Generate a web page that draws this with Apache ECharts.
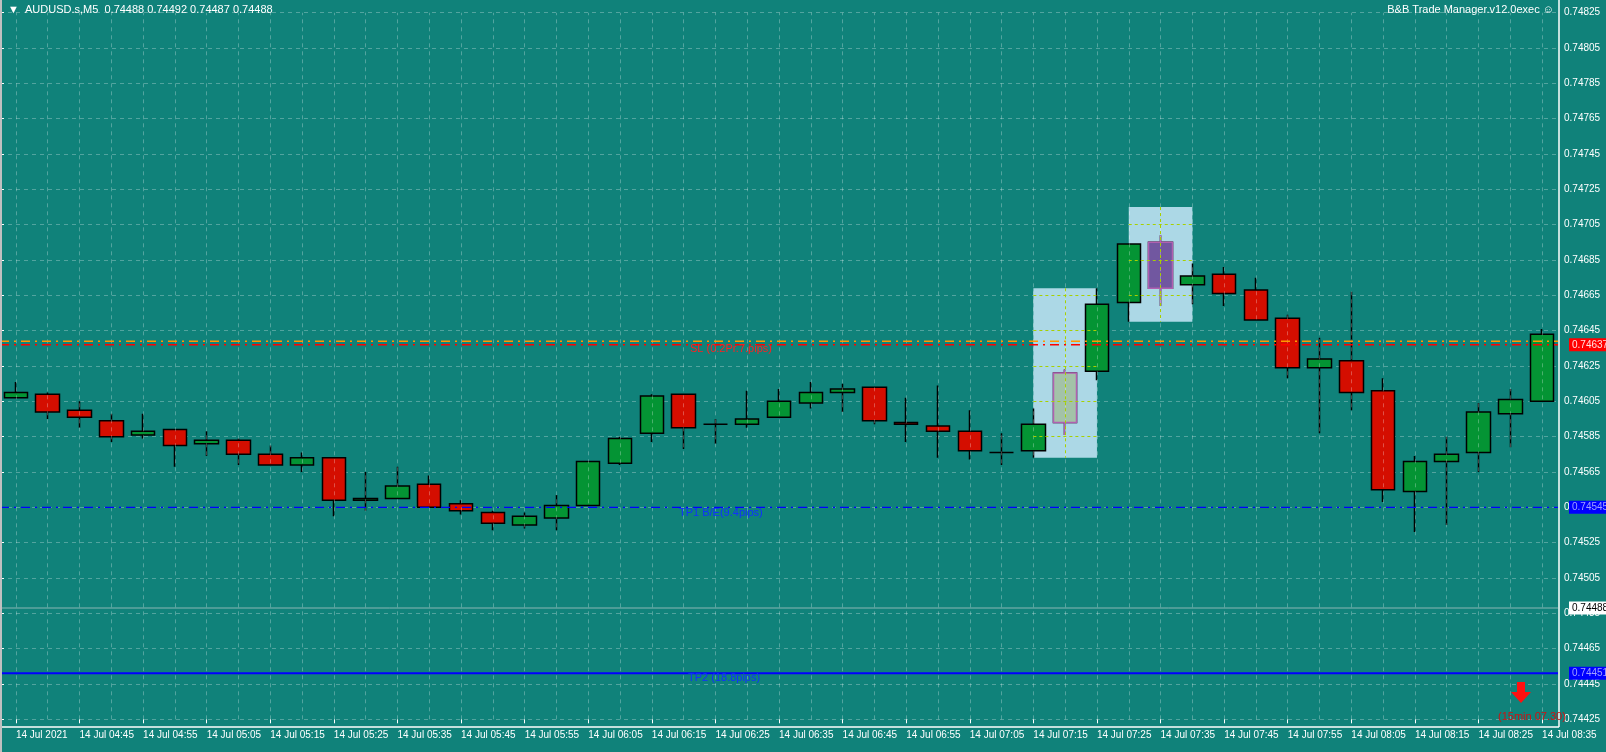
<!DOCTYPE html>
<html><head><meta charset="utf-8">
<script src="https://cdn.jsdelivr.net/npm/echarts@6/dist/echarts.min.js"></script>
<style>html,body{margin:0;padding:0;background:#10827a;}#c{width:1606px;height:752px;}</style>
</head><body><div id="c"></div>
<script>
const categories = ["04:35","04:40","04:45","04:50","04:55","05:00","05:05","05:10","05:15","05:20","05:25","05:30","05:35","05:40","05:45","05:50","05:55","06:00","06:05","06:10","06:15","06:20","06:25","06:30","06:35","06:40","06:45","06:50","06:55","07:00","07:05","07:10","07:15","07:20","07:25","07:30","07:35","07:40","07:45","07:50","07:55","08:00","08:05","08:10","08:15","08:20","08:25","08:30","08:35"];
const openP  = [0.74607,0.74609,0.74600,0.74594,0.74586,0.74589,0.74581,0.74583,0.74575,0.74569,0.74573,0.74549,0.74550,0.74558,0.74547,0.74542,0.74535,0.74539,0.74546,0.74570,0.74587,0.74609,0.74592,0.74592,0.74596,0.74604,0.74610,0.74613,0.74593,0.74591,0.74588,0.74576,0.74577,0.74593,0.74622,0.74661,0.74695,0.74671,0.74677,0.74668,0.74652,0.74624,0.74628,0.74611,0.74554,0.74571,0.74576,0.74598,0.74605];
const closeP = [0.74610,0.74599,0.74596,0.74585,0.74588,0.74580,0.74583,0.74575,0.74569,0.74573,0.74549,0.74550,0.74557,0.74545,0.74543,0.74536,0.74540,0.74546,0.74571,0.74584,0.74608,0.74590,0.74592,0.74595,0.74605,0.74610,0.74612,0.74594,0.74592,0.74588,0.74577,0.74576,0.74592,0.74621,0.74660,0.74694,0.74669,0.74676,0.74666,0.74651,0.74624,0.74629,0.74610,0.74555,0.74571,0.74575,0.74599,0.74606,0.74643];
const lowP   = [0.74607,0.74595,0.74590,0.74582,0.74584,0.74568,0.74574,0.74569,0.74569,0.74565,0.74540,0.74543,0.74550,0.74545,0.74541,0.74532,0.74533,0.74532,0.74546,0.74569,0.74582,0.74578,0.74581,0.74590,0.74596,0.74601,0.74599,0.74592,0.74582,0.74573,0.74572,0.74569,0.74573,0.74586,0.74617,0.74650,0.74659,0.74660,0.74659,0.74651,0.74618,0.74587,0.74600,0.74548,0.74531,0.74535,0.74565,0.74579,0.74605];
const highP  = [0.74616,0.74610,0.74605,0.74598,0.74598,0.74589,0.74588,0.74584,0.74580,0.74576,0.74573,0.74565,0.74568,0.74563,0.74549,0.74543,0.74542,0.74552,0.74571,0.74585,0.74609,0.74609,0.74595,0.74611,0.74612,0.74616,0.74615,0.74613,0.74607,0.74614,0.74600,0.74587,0.74601,0.74623,0.74669,0.74694,0.74699,0.74683,0.74681,0.74675,0.74654,0.74641,0.74667,0.74618,0.74574,0.74585,0.74604,0.74612,0.74646];
const yTicks = {min:0.74425, max:0.74825, step:0.0002};
const levelValues = [0.74639, 0.74637, 0.74545, 0.74488, 0.74451];
const levelLabels = ["", "0.74637", "0.74545", "0.74488", "0.74451"];
const boxes = [[32,34,0.74669,0.74573],[35,37,0.74715,0.74650]];
const boxLines = [[32,34,[0.74665,0.74645,0.74625,0.74605,0.74585],33],[35,37,[0.74705,0.74685,0.74665],36]];

const FONT = 'Liberation Sans';
const levelStyles = [
  {color:'#ff9900', type:[9,5,2,5], width:1.5, bg:'#ff9900', fg:'#ff9900'},
  {color:'#ff0000', type:[9,5,2,5], width:1.5, bg:'#ff0000', fg:'#ffe0e0'},
  {color:'#0000ff', type:[9,5,2,5], width:1.2, bg:'#0000ff', fg:'#a0a0ff'},
  {color:'rgba(190,205,205,0.7)', type:'solid', width:1, bg:'#ffffff', fg:'#000000'},
  {color:'#0000ff', type:'solid', width:2, bg:'#0000ff', fg:'#a0a0ff'}
];

const xLabels = categories.map((c,i)=> i===0 ? "14 Jul 2021" : "14 Jul " + c);
const candles = categories.map((c,i)=>[openP[i],closeP[i],lowP[i],highP[i]]);
const overlay = categories.map((c,i)=> i===33 ? {value:candles[i],itemStyle:{color:'#a3c2a8',borderColor:'#b060b0',color0:'#a3c2a8',borderColor0:'#b060b0'}}
  : i===36 ? {value:candles[i],itemStyle:{color:'#7157a0',color0:'#7157a0',borderColor:'#b060b0',borderColor0:'#b060b0'}} : '-');

const vLines = categories.map((c,i)=>({xAxis:i}));
const yl = [];
boxLines.forEach(b=>{
  b[2].forEach(p=>yl.push([{coord:[b[0],p]},{coord:[b[1],p]}]));
  const bx = boxes.find(x=>x[0]===b[0]);
  yl.push([{coord:[b[3],bx[2]]},{coord:[b[3],bx[3]]}]);
});

const levelSeries = levelValues.map((v,k)=>({
  type:'line', xAxisIndex:1, data:[[0,v],[1,v]], symbol:'none', silent:true, z:5,
  lineStyle:{color:levelStyles[k].color, type:levelStyles[k].type, width:levelStyles[k].width},
  endLabel:{show:levelLabels[k]!=='', formatter:levelLabels[k], offset:[3,0], backgroundColor:levelStyles[k].bg,
    color:levelStyles[k].fg, fontSize:10, fontFamily:FONT, padding:[2,3,1,3]}
}));

const chart = echarts.init(document.getElementById('c'));
chart.setOption({
  backgroundColor:'#10827a',
  animation:false,
  grid:{left:-10, right:48, top:12.7, bottom:32.7, containLabel:false},
  xAxis:[{type:'category', data:xLabels, boundaryGap:true,
    axisLine:{show:false},
    axisTick:{show:true, alignWithLabel:true, interval:1, length:4, lineStyle:{color:'#ffffff'}},
    axisLabel:{interval:1, align:'left', color:'#ffffff', fontSize:10, fontFamily:FONT, margin:11},
    splitLine:{show:false}},
    {type:'value', min:0, max:1, show:false}],
  yAxis:{type:'value', position:'right', min:yTicks.min, max:yTicks.max, interval:yTicks.step,
    axisLine:{show:false}, axisTick:{show:true,length:4,lineStyle:{color:'#ffffff'}},
    axisLabel:{color:'#ffffff', fontSize:10, fontFamily:FONT, margin:6, formatter:v=>v.toFixed(5)},
    splitLine:{show:true, lineStyle:{color:'rgba(255,255,255,0.28)', type:[4,4]}}},
  series:[
    {type:'line', data:[], silent:true, z:1,
     markLine:{silent:true, symbol:'none', label:{show:false}, lineStyle:{color:'rgba(255,255,255,0.28)',type:[4,4],width:1}, data:vLines},
     markArea:{silent:true, itemStyle:{color:'#acd8e6'}, data:boxes.map(b=>[{coord:[b[0],b[2]]},{coord:[b[1],b[3]]}])}},
    {type:'line', data:[], silent:true, z:2,
     markLine:{silent:true, symbol:'none', label:{show:false}, lineStyle:{color:'#a8d000',type:[3,3],width:1}, data:yl}},
    {type:'candlestick', data:candles, barWidth:24, z:3,
     itemStyle:{color:'#049434', color0:'#d40e00', borderColor:'#000000', borderColor0:'#000000', borderWidth:1.5}},
    {type:'candlestick', data:overlay, barWidth:24, z:4, itemStyle:{borderWidth:1.5}}
  ].concat(levelSeries),
  graphic:[
    {type:'line', shape:{x1:1559,y1:0,x2:1559,y2:727}, style:{stroke:'#ffffff',lineWidth:1.5}, z:10},
    {type:'line', shape:{x1:0,y1:727,x2:1559,y2:727}, style:{stroke:'#ffffff',lineWidth:1.5}, z:10},
    {type:'line', shape:{x1:1,y1:0,x2:1,y2:752}, style:{stroke:'#c0c0c0',lineWidth:2}, z:10},
    {type:'text', left:8, top:4, style:{text:'▼  AUDUSD.s,M5  0.74488 0.74492 0.74487 0.74488', fill:'#ffffff', font:'11px Liberation Sans'}, z:10},
    {type:'text', right:52, top:4, style:{text:'B&B Trade Manager.v12.0exec ☺', fill:'#ffffff', font:'11px Liberation Sans'}, z:10},
    {type:'text', left:690, top:343, style:{text:'SL (0.2Pr.7.pips)', fill:'#ff2020', font:'11px Liberation Sans'}, z:10},
    {type:'text', left:679, top:507, style:{text:'TP1 B/E(9.4pips)', fill:'#1030ff', font:'11px Liberation Sans'}, z:10},
    {type:'text', left:688, top:672, style:{text:'TP2 (18.8pips)', fill:'#1030ff', font:'11px Liberation Sans'}, z:10},
    {type:'polygon', shape:{points:[[1517,682],[1525,682],[1525,692],[1531,692],[1521,703],[1511,692],[1517,692]]}, style:{fill:'#ff1010'}, z:10},
    {type:'text', left:1498, top:711, style:{text:'(15min 07.30)', fill:'#d01010', font:'11px Liberation Sans'}, z:10}
  ]
});
</script></body></html>
